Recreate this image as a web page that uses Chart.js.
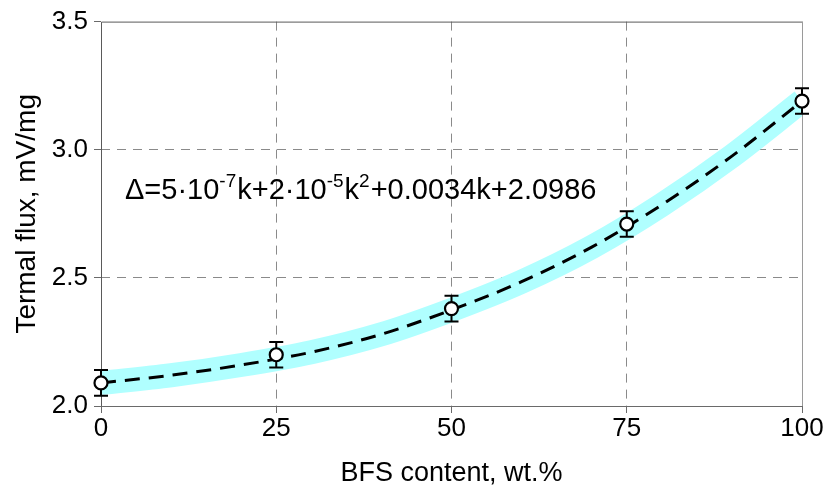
<!DOCTYPE html>
<html>
<head>
<meta charset="utf-8">
<script src="https://cdn.jsdelivr.net/npm/chart.js@4/dist/chart.umd.min.js"></script>
<style>
  html, body { margin: 0; padding: 0; background: #fff; }
  #wrap { width: 828px; height: 490px; }
</style>
</head>
<body>
<div id="wrap"><canvas id="myChart" width="828" height="490"></canvas></div>
<script>
// datos
var bfsContent  = [0, 25, 50, 75, 100];
var thermalFlux = [2.09, 2.20, 2.38, 2.71, 3.19];
var fluxError   = [0.05, 0.05, 0.05, 0.05, 0.05];

// curva de ajuste (leída a lo largo de la línea discontinua)
var fitK    = [0, 10, 20, 30, 40, 50, 60, 70, 80, 90, 100];
var fitFlux = [2.09, 2.12, 2.16, 2.21, 2.28, 2.375, 2.485, 2.62, 2.785, 2.975, 3.19];

var xTicks = [0, 25, 50, 75, 100];
var yTicks = [2.0, 2.5, 3.0, 3.5];

var FONT = "'Liberation Sans', Arial, sans-serif";

function toXY(xs, ys) {
  return xs.map(function (x, i) { return { x: x, y: ys[i] }; });
}

// barras de error, antes de dibujar los círculos
var errorBars = {
  id: 'errorBars',
  beforeDatasetDraw: function (chart, args) {
    if (args.index !== 2) return;
    var ctx = chart.ctx, xs = chart.scales.x, ys = chart.scales.y;
    ctx.save();
    ctx.strokeStyle = '#000';
    ctx.lineWidth = 2;
    bfsContent.forEach(function (k, i) {
      var px = xs.getPixelForValue(k);
      var top = ys.getPixelForValue(thermalFlux[i] + fluxError[i]);
      var bot = ys.getPixelForValue(thermalFlux[i] - fluxError[i]);
      ctx.beginPath();
      ctx.moveTo(px, top); ctx.lineTo(px, bot);
      ctx.moveTo(px - 7, top); ctx.lineTo(px + 7, top);
      ctx.moveTo(px - 7, bot); ctx.lineTo(px + 7, bot);
      ctx.stroke();
    });
    ctx.restore();
  }
};

// marco del área y ecuación
var frameAndText = {
  id: 'frameAndText',
  beforeDatasetsDraw: function (chart) {
    var a = chart.chartArea, ctx = chart.ctx;
    ctx.save();
    ctx.strokeStyle = '#5a5a5a';
    ctx.lineWidth = 1;
    ctx.beginPath();
    ctx.moveTo(a.left + 0.5, a.bottom);
    ctx.lineTo(a.left + 0.5, a.top + 0.5);
    ctx.lineTo(a.right + 0.5, a.top + 0.5);
    ctx.stroke();
    ctx.strokeStyle = '#9a9a9a';
    ctx.beginPath();
    ctx.moveTo(a.right + 0.5, a.top);
    ctx.lineTo(a.right + 0.5, a.bottom);
    ctx.stroke();
    ctx.restore();
  },
  afterDraw: function (chart) {
    var ctx = chart.ctx, a = chart.chartArea;
    var parts = [
      ['Δ=5·10', 0], ['-7', 1], ['k+2·10', 0], ['-5', 1],
      ['k', 0], ['2', 1], ['+0.0034k+2.0986', 0]
    ];
    var x = a.left + 24, y = a.top + 177;
    ctx.save();
    ctx.fillStyle = '#000';
    ctx.textBaseline = 'alphabetic';
    parts.forEach(function (p) {
      ctx.font = (p[1] ? '19px ' : '29px ') + FONT;
      ctx.fillText(p[0], x, p[1] ? y - 12 : y);
      x += ctx.measureText(p[0]).width + (p[1] ? 1 : 0);
    });
    ctx.restore();
  }
};

var ctx = document.getElementById('myChart');

var myChart = new Chart(ctx, {
  type: 'scatter',
  data: {
    datasets: [
      {
        label: 'banda',
        data: toXY(fitK, fitFlux),
        showLine: true,
        borderColor: '#b0ffff',
        borderWidth: 24,
        pointRadius: 0,
        tension: 0.4,
        cubicInterpolationMode: 'monotone',
        clip: 0,
        order: 3
      },
      {
        label: 'ajuste',
        data: toXY(fitK, fitFlux),
        showLine: true,
        borderColor: '#000',
        borderWidth: 3,
        borderDash: [15, 9],
        pointRadius: 0,
        tension: 0.4,
        cubicInterpolationMode: 'monotone',
        clip: 0,
        order: 2
      },
      {
        label: 'Termal flux',
        data: toXY(bfsContent, thermalFlux),
        showLine: false,
        pointRadius: 6.5,
        pointBorderWidth: 2.2,
        pointBackgroundColor: '#fff',
        pointBorderColor: '#000',
        clip: false,
        order: 1
      }
    ]
  },
  options: {
    responsive: false,
    animation: false,
    events: [],
    layout: { padding: { top: 16, right: 26, left: 0, bottom: 0 } },
    plugins: {
      legend: { display: false },
      tooltip: { enabled: false }
    },
    scales: {
      x: {
        type: 'linear',
        min: 0, max: 100,
        afterFit: function (s) { s.height = 84; },
        afterBuildTicks: function (s) { s.ticks = xTicks.map(function (v) { return { value: v }; }); },
        ticks: { color: '#000', font: { family: FONT, size: 26 }, padding: 0, maxRotation: 0,
                 callback: function (v) { return String(v); } },
        grid: {
          color: function (c) { return (c.tick && (c.tick.value === 0 || c.tick.value === 100)) ? 'rgba(0,0,0,0)' : '#8a8a8a'; },
          tickColor: '#6a6a6a', tickLength: 7, lineWidth: 1
        },
        border: { display: true, color: '#6a6a6a', dash: [9, 7] },
        title: { display: true, text: 'BFS content, wt.%', color: '#000',
                 font: { family: FONT, size: 27 }, padding: { top: 0, bottom: 0 } }
      },
      y: {
        min: 2.0, max: 3.5,
        afterFit: function (s) { s.width = 101; },
        afterBuildTicks: function (s) { s.ticks = yTicks.map(function (v) { return { value: v }; }); },
        ticks: { color: '#000', font: { family: FONT, size: 26 }, padding: 6,
                 callback: function (v) { return Number(v).toFixed(1); } },
        grid: {
          color: function (c) { return (c.tick && (c.tick.value === 2.0 || c.tick.value === 3.5)) ? 'rgba(0,0,0,0)' : '#8a8a8a'; },
          tickColor: '#6a6a6a', tickLength: 7, lineWidth: 1
        },
        border: { display: false, dash: [9, 7] },
        title: { display: true, text: 'Termal flux, mV/mg', color: '#000',
                 font: { family: FONT, size: 28 }, padding: { top: 10, bottom: 0 } }
      }
    }
  },
  plugins: [frameAndText, errorBars]
});
</script>
</body>
</html>
